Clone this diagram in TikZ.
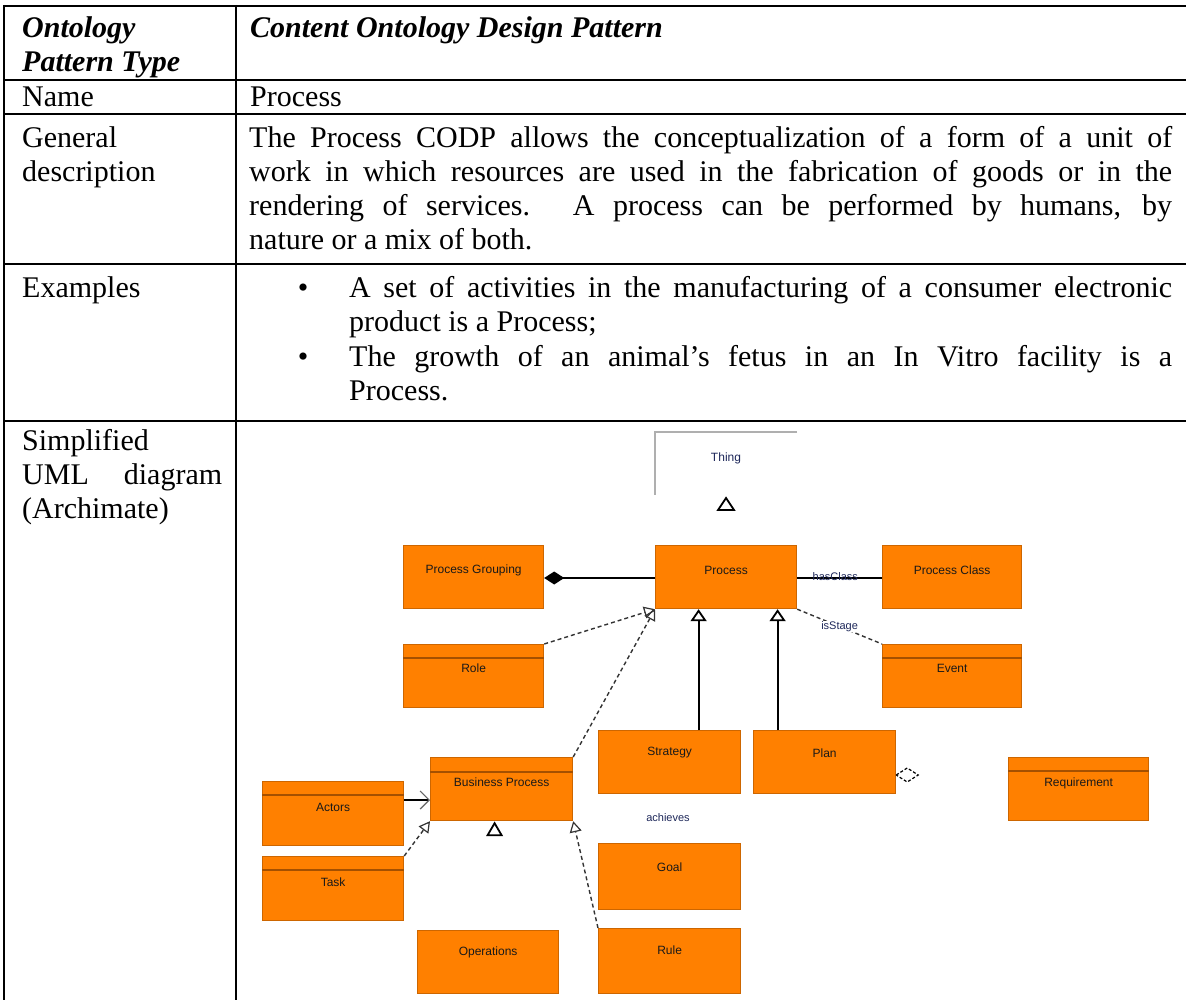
\documentclass[tikz,border=0pt]{standalone}
\usepackage{fontspec}
\setmainfont{Liberation Serif}
\newfontfamily\diafont{Liberation Sans}
\usetikzlibrary{arrows.meta}
\definecolor{uorange}{RGB}{255,128,0}
\definecolor{uborder}{RGB}{205,102,0}
\definecolor{ucomp}{RGB}{165,80,0}
\definecolor{thinggray}{RGB}{175,175,175}
\definecolor{lbl}{RGB}{30,40,90}
\begin{document}
\begin{tikzpicture}[x=1pt,y=-1pt,
 grid/.style={line width=2pt, black},
 celltext/.style={anchor=base west, inner sep=0pt, font=\fontsize{30}{34}\selectfont},
 obox/.style={draw=uborder, fill=uorange, line width=1.2pt, anchor=north west, inner sep=0pt, minimum width=140pt, minimum height=63pt},
 boxtext/.style={font=\diafont\fontsize{12}{14}\selectfont, text=black!90, inner sep=0pt},
 comp/.style={draw=ucomp, line width=1.2pt},
 gen/.style={line width=2.2pt, -{Triangle[open, length=12pt, width=16pt, line width=1.8pt]}},
 real/.style={line width=1.4pt, dash pattern=on 4pt off 3pt, black!80, -{Triangle[open, length=11pt, width=12pt, line width=1.2pt]}},
 dline/.style={line width=1.4pt, dash pattern=on 4pt off 3pt, black!80},
 lbltext/.style={font=\diafont\fontsize{11}{13}\selectfont, text=lbl, inner sep=1pt}
]
\useasboundingbox (0,0) rectangle (1186,1000);
\fill[white] (0,0) rectangle (1186,1000);

% ---------- table grid ----------
\draw[grid] (3,6) -- (1186,6);
\draw[grid] (3,80) -- (1186,80);
\draw[grid] (3,114) -- (1186,114);
\draw[grid] (3,264) -- (1186,264);
\draw[grid] (3,421) -- (1186,421);
\draw[grid] (4,5) -- (4,1000);
\draw[grid] (236,5) -- (236,1000);

% ---------- table text ----------
\node[celltext] (hL) at (22,38) {\parbox[t]{210pt}{\bfseries\itshape Ontology\newline Pattern Type}};
\node[celltext] (hR) at (250,38) {\bfseries\itshape Content Ontology Design Pattern};
\node[celltext] (nL) at (22,107) {Name};
\node[celltext] (nR) at (250,107) {Process};
\node[celltext] (gL) at (22,148) {\parbox[t]{210pt}{General\newline description}};
\node[celltext] (gR) at (249,148) {\parbox[t]{923pt}{The Process CODP allows the conceptualization of a form of a unit of\linebreak work in which resources are used in the fabrication of goods or in the\linebreak rendering of services. A process can be performed by humans, by\linebreak nature or a mix of both.}};
\node[celltext] (eL) at (22,298) {Examples};
\node[celltext, anchor=base] (b1) at (303,298) {\textbullet};
\node[celltext] (e1) at (349,298) {\parbox[t]{823pt}{A set of activities in the manufacturing of a consumer electronic\linebreak product is a Process;}};
\node[celltext, anchor=base] (b2) at (303,366) {\textbullet};
\node[celltext] (e2) at (349,366) {\parbox[t]{823pt}{The growth of an animal’s fetus in an In Vitro facility is a\linebreak Process.}};
\node[celltext] (sL) at (22,450) {\parbox[t]{200pt}{Simplified\newline UML diagram\linebreak (Archimate)}};

% ---------- diagram ----------
% Thing
\draw[thinggray, line width=2pt] (797,432) -- (655,432) -- (655,495);
\node[boxtext, text=lbl] (thing) at (726,458) {Thing};
\draw[line width=1.8pt] (726,498) -- (718,510) -- (734,510) -- cycle;

% boxes
\node[obox] (pg) at (403,545) {};
\node[boxtext] (pgT) at ([yshift=-25pt]pg.north) {Process Grouping};
\node[obox, minimum width=141pt] (process) at (655,545) {};
\node[boxtext] (processT) at ([yshift=-25pt]process.north) {Process};
\node[obox, minimum width=139pt] (pclass) at (882,545) {};
\node[boxtext] (pclassT) at ([yshift=-25pt]pclass.north) {Process Class};

\node[obox] (role) at (403,644) {};
\draw[comp] ([yshift=-14pt]role.north west) -- ([yshift=-14pt]role.north east);
\node[boxtext] (roleT) at ([yshift=-24pt]role.north) {Role};
\node[obox, minimum width=139pt] (event) at (882,644) {};
\draw[comp] ([yshift=-14pt]event.north west) -- ([yshift=-14pt]event.north east);
\node[boxtext] (eventT) at ([yshift=-24pt]event.north) {Event};

\node[obox, minimum width=142pt] (strategy) at (598,730) {};
\node[boxtext] (strategyT) at ([yshift=-23pt]strategy.north) {Strategy};
\node[obox, minimum width=142pt] (plan) at (753,730) {};
\node[boxtext] (planT) at ([yshift=-23pt]plan.north) {Plan};

\node[obox] (req) at (1008,757) {};
\draw[comp] ([yshift=-14pt]req.north west) -- ([yshift=-14pt]req.north east);
\node[boxtext] (reqT) at ([yshift=-26pt]req.north) {Requirement};

\node[obox, minimum width=142pt] (bp) at (430,757) {};
\draw[comp] ([yshift=-15pt]bp.north west) -- ([yshift=-15pt]bp.north east);
\node[boxtext] (bpT) at ([yshift=-25pt]bp.north) {Business Process};

\node[obox, minimum width=141pt, minimum height=64pt] (actors) at (262,781) {};
\draw[comp] ([yshift=-14pt]actors.north west) -- ([yshift=-14pt]actors.north east);
\node[boxtext] (actorsT) at ([yshift=-26pt]actors.north) {Actors};
\node[obox, minimum width=141pt, minimum height=64pt] (task) at (262,856) {};
\draw[comp] ([yshift=-14pt]task.north west) -- ([yshift=-14pt]task.north east);
\node[boxtext] (taskT) at ([yshift=-26pt]task.north) {Task};

\node[obox, minimum width=142pt, minimum height=66pt] (goal) at (598,843) {};
\node[boxtext] (goalT) at ([yshift=-24pt]goal.north) {Goal};
\node[obox, minimum width=142pt, minimum height=65pt] (rule) at (598,928) {};
\node[boxtext] (ruleT) at ([yshift=-22pt]rule.north) {Rule};
\node[obox, minimum width=141pt] (ops) at (417,930) {};
\node[boxtext] (opsT) at ([yshift=-22pt]ops.north) {Operations};

% connectors
\draw[line width=2.2pt, -{Diamond[length=20pt, width=13pt]}] ([yshift=-33pt]process.north west) -- ([yshift=-33pt]pg.north east);
\draw[line width=2.2pt] ([yshift=-33pt]process.north east) -- ([yshift=-33pt]pclass.north west)
  node[lbltext, pos=0.45, above=-5pt] (hasclass) {hasClass};
\draw[dline] (process.south east) -- (event.north west)
  node[lbltext, pos=0.5, fill=white, inner sep=0.5pt] (isstage) {isStage};
\draw[gen] ([xshift=29pt]strategy.north) -- ([xshift=29pt]strategy.north |- process.south);
\draw[gen] ([xshift=-47pt]plan.north) -- ([xshift=-47pt]plan.north |- process.south);
\draw[real] (role.north east) -- (process.south west);
\draw[real] (bp.north east) -- (process.south west);
\draw[line width=2pt, -{Straight Barb[length=9pt, width=18pt, line width=1.2pt, color=black!60]}] ([yshift=-19pt]actors.north east) -- ([yshift=-19pt]actors.north east -| bp.west);
\draw[real] (task.north east) -- (bp.south west);
\draw[real] (rule.north west) -- (bp.south east);
\draw[line width=1.8pt] ([xshift=-7pt, yshift=-2pt]bp.south) -- ++(-7,12) -- ++(14,0) -- cycle;
\draw[line width=1.2pt, dash pattern=on 3pt off 2pt] ([yshift=-45pt]plan.north east) -- ++(11,-7) -- ++(11,7) -- ++(-11,7) -- cycle;
\node[lbltext] (ach) at (668,818) {achieves};
\end{tikzpicture}
\end{document}
